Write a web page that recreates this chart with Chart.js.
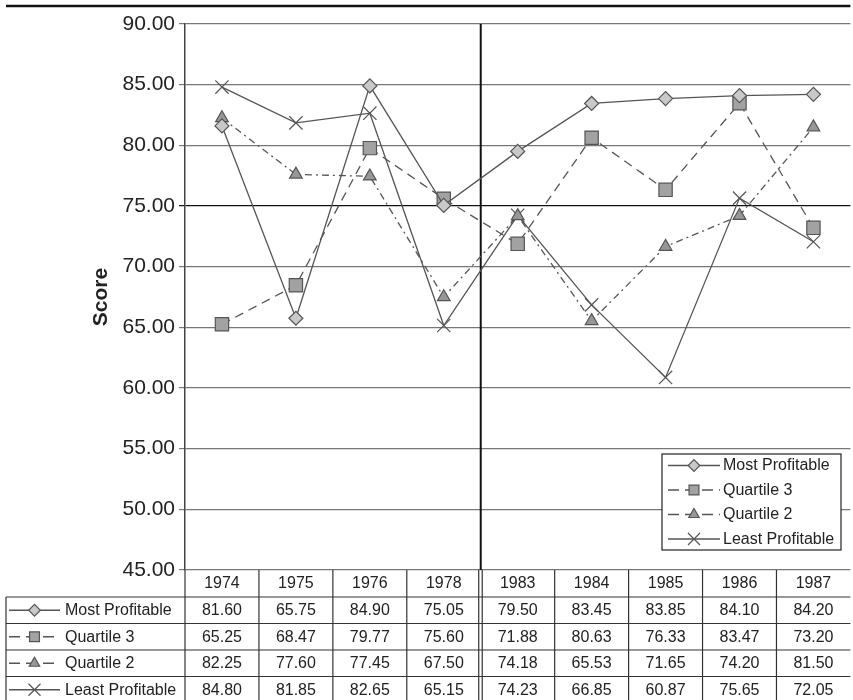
<!DOCTYPE html>
<html>
<head>
<meta charset="utf-8">
<title>Score by profitability group</title>
<script src="https://cdn.jsdelivr.net/npm/chart.js@4/dist/chart.umd.min.js"></script>
<style>
  html, body { margin: 0; padding: 0; background: #fff; overflow: hidden; }
  #wrap { width: 861px; height: 700px; }
</style>
</head>
<body>
<div id="wrap"><canvas id="c" width="861" height="700"></canvas></div>
<script>
// ---- data ----
const years = ['1974', '1975', '1976', '1978', '1983', '1984', '1985', '1986', '1987'];
const mostProfitable  = [81.60, 65.75, 84.90, 75.05, 79.50, 83.45, 83.85, 84.10, 84.20];
const quartile3       = [65.25, 68.47, 79.77, 75.60, 71.88, 80.63, 76.33, 83.47, 73.20];
const quartile2       = [82.25, 77.60, 77.45, 67.50, 74.18, 65.53, 71.65, 74.20, 81.50];
const leastProfitable = [84.80, 81.85, 82.65, 65.15, 74.23, 66.85, 60.87, 75.65, 72.05];
const seriesNames = ['Most Profitable', 'Quartile 3', 'Quartile 2', 'Least Profitable'];
const yTicks = { min: 45, max: 90, step: 5 };
const breakAfterIndex = 3; // the period break falls between 1978 and 1983

const FONT = '"Liberation Sans", Arial, Helvetica, sans-serif';
const LINE = '#555';

const styles = [
  { pointStyle: 'rectRot',  radius: 7,   legendRadius: 5.8, fill: '#c9c9c9', dash: [],            keyDash: [] },
  { pointStyle: 'rect',     radius: 9.4, legendRadius: 7,   fill: '#a2a2a2', dash: [9, 6],        keyDash: [11, 6] },
  { pointStyle: 'triangle', radius: 7.3, legendRadius: 6,   fill: '#979797', dash: [7, 4, 2, 4],  keyDash: [11, 6] },
  { pointStyle: 'crossRot', radius: 9.4, legendRadius: 8.5, fill: LINE,      dash: [],            keyDash: [] }
];
const values = [mostProfitable, quartile3, quartile2, leastProfitable];

const datasets = values.map((vals, i) => ({
  label: seriesNames[i],
  data: vals,
  borderColor: LINE,
  borderWidth: 1.3,
  borderDash: styles[i].dash,
  tension: 0,
  fill: false,
  pointStyle: styles[i].pointStyle,
  pointRadius: styles[i].radius,
  pointHoverRadius: styles[i].radius,
  pointBackgroundColor: styles[i].fill,
  pointBorderColor: LINE,
  pointBorderWidth: 1.2
}));

function marker(ctx, i, x, y, r) {
  ctx.save();
  ctx.setLineDash([]);
  ctx.fillStyle = styles[i].fill;
  ctx.strokeStyle = LINE;
  ctx.lineWidth = 1.2;
  Chart.helpers.drawPoint(ctx, { pointStyle: styles[i].pointStyle, radius: r, rotation: 0, borderWidth: 1.2 }, x, y);
  ctx.restore();
}

// short line with the series marker in its middle, used in the key
function sample(ctx, i, x0, x1, y) {
  ctx.save();
  ctx.strokeStyle = LINE;
  ctx.lineWidth = 1.4;
  ctx.setLineDash(styles[i].keyDash);
  ctx.beginPath();
  ctx.moveTo(x0, y);
  ctx.lineTo(x1, y);
  ctx.stroke();
  ctx.restore();
  marker(ctx, i, (x0 + x1) / 2, y, styles[i].legendRadius);
}

const decor = {
  id: 'decor',
  beforeDatasetsDraw(chart) {
    const { ctx, chartArea, scales } = chart;
    const x = scales.x;
    const xb = (x.getPixelForValue(breakAfterIndex) + x.getPixelForValue(breakAfterIndex + 1)) / 2;
    ctx.save();
    ctx.strokeStyle = '#111';
    ctx.lineWidth = 2;
    ctx.beginPath();
    ctx.moveTo(xb, chartArea.top);
    ctx.lineTo(xb, chartArea.bottom);
    ctx.stroke();
    ctx.restore();
  },
  afterDraw(chart) {
    const { ctx, chartArea, scales } = chart;
    const x = scales.x;
    const top = chartArea.bottom;
    const left = chartArea.left;
    const right = chartArea.right;
    const headerH = 27;
    const rowH = 26.5;
    const tableLeft = 6;
    const colW = x.getPixelForValue(1) - x.getPixelForValue(0);

    ctx.save();
    // rule across the top of the page
    ctx.strokeStyle = '#111';
    ctx.lineWidth = 2.5;
    ctx.beginPath();
    ctx.moveTo(6, 6);
    ctx.lineTo(right, 6);
    ctx.stroke();

    // axis title
    ctx.save();
    ctx.translate(101, 297);
    ctx.rotate(-Math.PI / 2);
    ctx.fillStyle = '#222';
    ctx.font = 'bold 21px ' + FONT;
    ctx.textAlign = 'center';
    ctx.textBaseline = 'middle';
    ctx.fillText('Score', 0, 0);
    ctx.restore();

    // data table
    ctx.strokeStyle = '#333';
    ctx.lineWidth = 1.2;
    const bottom = 705;
    for (let r = 0; r < seriesNames.length; r++) {
      const yy = top + headerH + r * rowH;
      ctx.beginPath();
      ctx.moveTo(tableLeft, yy);
      ctx.lineTo(right, yy);
      ctx.stroke();
    }
    ctx.beginPath();
    ctx.moveTo(tableLeft, top + headerH);
    ctx.lineTo(tableLeft, bottom);
    ctx.stroke();
    ctx.beginPath();
    ctx.moveTo(left, top);
    ctx.lineTo(left, bottom);
    ctx.stroke();
    for (let c = 1; c < years.length; c++) {
      const xx = x.getPixelForValue(c) - colW / 2;
      ctx.beginPath();
      if (c === breakAfterIndex + 1) {
        ctx.moveTo(xx - 2, top);
        ctx.lineTo(xx - 2, bottom);
        ctx.moveTo(xx + 1.5, top);
        ctx.lineTo(xx + 1.5, bottom);
      } else {
        ctx.moveTo(xx, top);
        ctx.lineTo(xx, bottom);
      }
      ctx.stroke();
    }
    ctx.fillStyle = '#222';
    ctx.font = '16px ' + FONT;
    ctx.textAlign = 'center';
    ctx.textBaseline = 'middle';
    years.forEach((yr, c) => ctx.fillText(yr, x.getPixelForValue(c), top + headerH / 2 + 0.5));
    values.forEach((vals, r) => {
      const yy = top + headerH + r * rowH + rowH / 2 + 0.5;
      vals.forEach((v, c) => ctx.fillText(v.toFixed(2), x.getPixelForValue(c), yy));
    });
    seriesNames.forEach((name, r) => {
      const yy = top + headerH + r * rowH + rowH / 2;
      sample(ctx, r, 9, 60, yy);
      ctx.fillStyle = '#222';
      ctx.textAlign = 'left';
      ctx.fillText(name, 65, yy + 0.5);
    });

    // legend box
    const lx = 662, ly = 454, lw = 179, lh = 96;
    ctx.fillStyle = '#fff';
    ctx.fillRect(lx, ly, lw, lh);
    ctx.strokeStyle = '#222';
    ctx.lineWidth = 1.2;
    ctx.strokeRect(lx, ly, lw, lh);
    seriesNames.forEach((name, r) => {
      const yy = ly + 11.5 + r * 24.5;
      sample(ctx, r, lx + 6, lx + 58, yy);
      ctx.fillStyle = '#222';
      ctx.font = '16px ' + FONT;
      ctx.textAlign = 'left';
      ctx.textBaseline = 'middle';
      ctx.fillText(name, lx + 61, yy + 0.5);
    });
    ctx.restore();
  }
};

new Chart(document.getElementById('c'), {
  type: 'line',
  data: { labels: years, datasets },
  plugins: [decor],
  options: {
    responsive: false,
    devicePixelRatio: 1,
    animation: false,
    layout: { padding: { top: 24, bottom: 130, left: 0, right: 0 } },
    plugins: { legend: { display: false }, tooltip: { enabled: false } },
    scales: {
      x: { type: 'category', display: false, offset: true },
      y: {
        min: yTicks.min,
        max: yTicks.max,
        ticks: {
          stepSize: yTicks.step,
          callback: v => Number(v).toFixed(2),
          font: { size: 21, family: FONT },
          color: '#222',
          padding: 4
        },
        grid: {
          color: c => (c.tick && c.tick.value === 75 ? '#111' : '#777'),
          lineWidth: 1.2,
          tickLength: 6,
          drawTicks: true
        },
        border: { color: '#444', width: 1.5 },
        afterFit: s => { s.width = 185; }
      }
    }
  }
});
</script>
</body>
</html>
